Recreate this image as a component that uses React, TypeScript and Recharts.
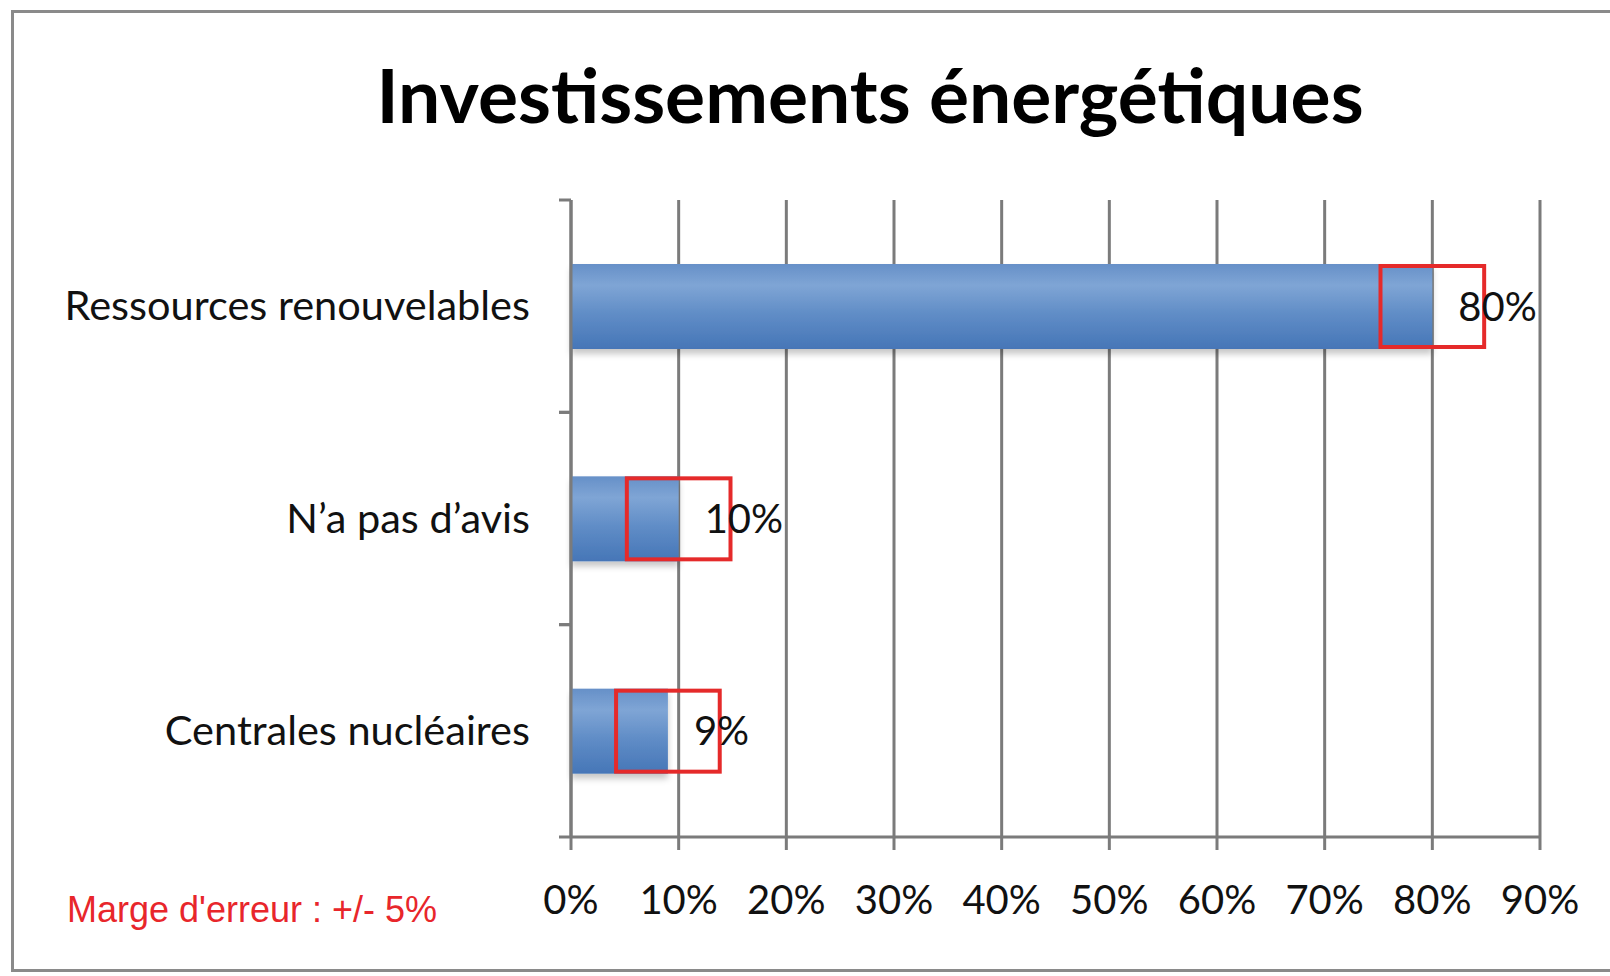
import { BarChart, Bar, XAxis, YAxis, CartesianGrid, LabelList } from 'recharts';

const categories = ['Ressources renouvelables', "N’a pas d’avis", 'Centrales nucléaires'];
const values = [80, 10, 9];
const margin = 5;
const xTicks = [0, 10, 20, 30, 40, 50, 60, 70, 80, 90];

const data = categories.map((name, i) => ({ name, value: values[i] }));

const W = 1610;
const H = 976;
const PLOT_TOP = 200;
const PLOT_BOTTOM = 837;
const BAND = (PLOT_BOTTOM - PLOT_TOP) / categories.length;
const AXIS_GRAY = '#7b7b7b';
const FONT = 'Lato, "Open Sans", sans-serif';

const CategoryTick = (props: any) => {
  const { payload } = props;
  const cy = payload.coordinate;
  const axisX = 571;
  return (
    <g>
      <line x1={axisX - 12} x2={axisX} y1={cy - BAND / 2} y2={cy - BAND / 2} stroke={AXIS_GRAY} strokeWidth={3} />
      <line x1={axisX - 12} x2={axisX} y1={cy + BAND / 2} y2={cy + BAND / 2} stroke={AXIS_GRAY} strokeWidth={3} />
      <text x={530} y={cy} dy={14} textAnchor="end" fontSize={41.5} fontFamily={FONT} fill="#111">
        {payload.value}
      </text>
    </g>
  );
};

// bar + red error box (value +/- margin) drawn from the bar's own scale
const BarWithError = (props: any) => {
  const { x, y, width, height, value } = props;
  const v = Array.isArray(value) ? value[1] : value;
  const perUnit = width / v;
  const sw = 4;
  const ex = x + perUnit * (v - margin);
  const ew = perUnit * margin * 2;
  return (
    <g>
      <rect x={x} y={y} width={width} height={height} fill="url(#barGrad)" filter="url(#barShadow)" />
      <rect x={ex + sw / 2} y={y + sw / 2} width={ew - sw} height={height - sw} fill="none" stroke="#e52a2a" strokeWidth={sw} />
    </g>
  );
};

export default function App() {
  return (
    <div style={{ position: 'absolute', left: 0, top: 0, width: W, height: H, background: '#fff', overflow: 'hidden' }}>
      <div style={{ position: 'absolute', left: 11, top: 10, width: W + 20, height: 962, border: '3px solid #8a8a8a', boxSizing: 'border-box' }} />
      <div style={{ position: 'absolute', left: 0, width: 1740, top: 57, textAlign: 'center', fontFamily: FONT, fontWeight: 700, fontSize: 75, lineHeight: 1, color: '#000' }}>
        Investissements énergétiques
      </div>
      <div style={{ position: 'absolute', left: 67, top: 892, fontFamily: '"Liberation Sans", Arial, sans-serif', fontSize: 36, lineHeight: 1, color: '#e8262b' }}>
        Marge d'erreur : +/- 5%
      </div>
      <div style={{ position: 'absolute', left: 0, top: 0 }}>
        <BarChart width={W} height={H} data={data} layout="vertical" margin={{ top: PLOT_TOP, right: 70, bottom: 0, left: 0 }}>
          <defs>
            <linearGradient id="barGrad" x1="0" y1="0" x2="0" y2="1">
              <stop offset="0%" stopColor="#6690c8" />
              <stop offset="25%" stopColor="#7fa5d5" />
              <stop offset="60%" stopColor="#5f8cc6" />
              <stop offset="100%" stopColor="#4676b7" />
            </linearGradient>
            <filter id="barShadow" x="-5%" y="-20%" width="110%" height="150%">
              <feDropShadow dx="0" dy="5" stdDeviation="3" floodColor="#000" floodOpacity="0.22" />
            </filter>
          </defs>
          <CartesianGrid horizontal={false} stroke={AXIS_GRAY} strokeWidth={3} />
          <XAxis
            type="number"
            domain={[0, 90]}
            ticks={xTicks}
            interval={0}
            height={H - PLOT_BOTTOM}
            tickFormatter={(v: number) => `${v}%`}
            axisLine={{ stroke: AXIS_GRAY, strokeWidth: 3 }}
            tickLine={{ stroke: AXIS_GRAY, strokeWidth: 3 }}
            tickSize={13}
            tick={{ fontSize: 40, fontFamily: FONT, fill: '#111', dy: 34 }}
          />
          <YAxis
            type="category"
            dataKey="name"
            width={571}
            axisLine={{ stroke: AXIS_GRAY, strokeWidth: 3 }}
            tickLine={false}
            tick={<CategoryTick />}
          />
          <Bar dataKey="value" barSize={85} shape={<BarWithError />} isAnimationActive={false}>
            <LabelList
              dataKey="value"
              position="right"
              offset={26}
              formatter={(v: number) => `${v}%`}
              style={{ fontSize: 40, fontFamily: FONT, fill: '#111' }}
            />
          </Bar>
        </BarChart>
      </div>
    </div>
  );
}
